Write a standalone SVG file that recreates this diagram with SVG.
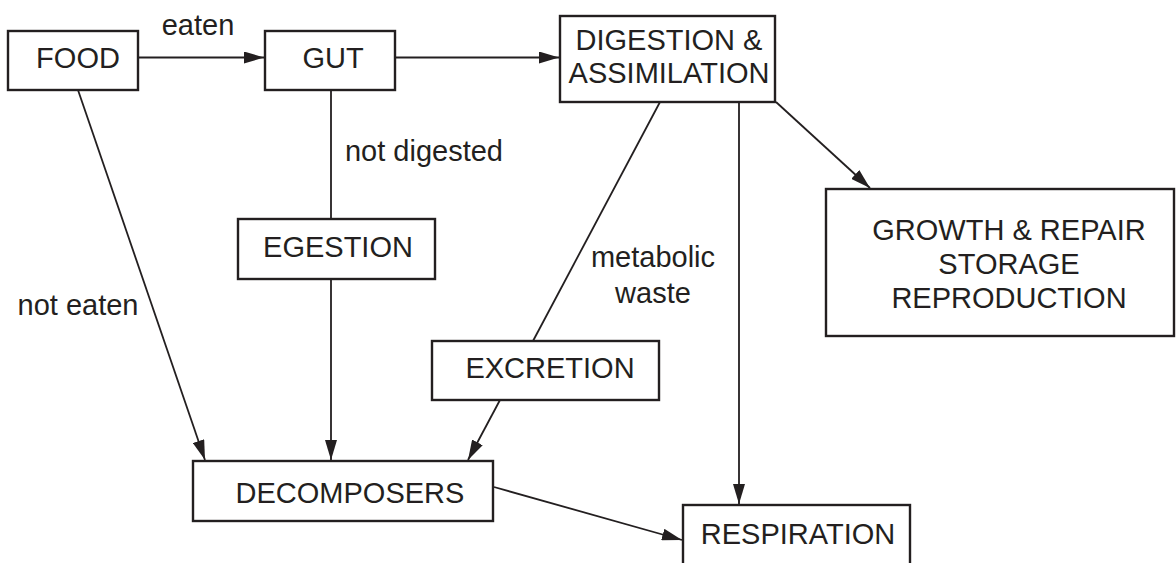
<svg xmlns="http://www.w3.org/2000/svg" width="1176" height="563" viewBox="0 0 1176 563">
<style>
.box{fill:#fff;stroke:#231f20;stroke-width:2.4}
.t{font-family:"Liberation Sans",Arial,sans-serif;font-size:29px;fill:#231f20;text-anchor:middle}
.ln{stroke:#231f20;stroke-width:1.8;fill:none}
</style>
<defs>
<marker id="ah" markerUnits="userSpaceOnUse" markerWidth="21" markerHeight="12" refX="20" refY="6" orient="auto">
<path d="M0,0 L20,6 L0,12 z" fill="#231f20"/>
</marker>
</defs>
<rect width="1176" height="563" fill="#fff"/>
<g id="connectors">
<line class="ln" x1="138" y1="57.5" x2="264" y2="57.5" marker-end="url(#ah)"/>
<line class="ln" x1="395" y1="57.5" x2="559" y2="57.5" marker-end="url(#ah)"/>
<line class="ln" x1="78" y1="90" x2="205" y2="460" marker-end="url(#ah)"/>
<line class="ln" x1="331" y1="90" x2="331" y2="218"/>
<line class="ln" x1="331" y1="279" x2="331" y2="460" marker-end="url(#ah)"/>
<line class="ln" x1="660" y1="102" x2="533" y2="341"/>
<line class="ln" x1="500" y1="400" x2="468" y2="460" marker-end="url(#ah)"/>
<line class="ln" x1="739" y1="102" x2="739" y2="504" marker-end="url(#ah)"/>
<line class="ln" x1="776" y1="102" x2="870" y2="188" marker-end="url(#ah)"/>
<line class="ln" x1="494" y1="487" x2="682" y2="540" marker-end="url(#ah)"/>
</g>
<g id="food"><rect class="box" x="8" y="31" width="130" height="59"/><text class="t" x="78" y="68">FOOD</text></g>
<g id="gut"><rect class="box" x="265" y="31" width="130" height="59"/><text class="t" x="333" y="68">GUT</text></g>
<g id="digestion"><rect class="box" x="560" y="16" width="215" height="86"/><text class="t" x="669" y="50">DIGESTION &amp;</text><text class="t" x="669" y="83">ASSIMILATION</text></g>
<g id="egestion"><rect class="box" x="238" y="219" width="197" height="60"/><text class="t" x="338" y="257">EGESTION</text></g>
<g id="excretion"><rect class="box" x="432" y="341" width="227" height="59"/><text class="t" x="550" y="378">EXCRETION</text></g>
<g id="growth"><rect class="box" x="826" y="189" width="348" height="147"/><text class="t" x="1009" y="240">GROWTH &amp; REPAIR</text><text class="t" x="1009" y="274">STORAGE</text><text class="t" x="1009" y="308">REPRODUCTION</text></g>
<g id="decomposers"><rect class="box" x="193" y="461" width="300" height="60"/><text class="t" x="350" y="503">DECOMPOSERS</text></g>
<g id="respiration"><rect class="box" x="683" y="505" width="227" height="80"/><text class="t" x="798" y="544">RESPIRATION</text></g>
<g id="labels">
<text class="t" x="198" y="35">eaten</text>
<text class="t" x="424" y="161">not digested</text>
<text class="t" x="653" y="267">metabolic</text>
<text class="t" x="653" y="303">waste</text>
<text class="t" x="78" y="315">not eaten</text>
</g>
</svg>
